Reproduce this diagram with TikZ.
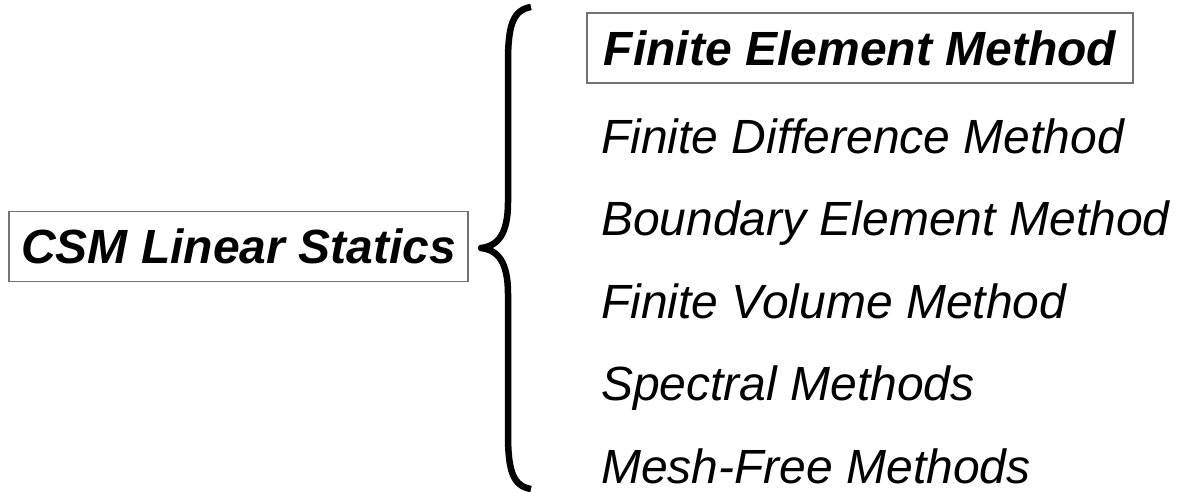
\documentclass[tikz,border=0pt]{standalone}
\usepackage{fontspec}
\setmainfont{Liberation Sans}
\begin{document}
\begin{tikzpicture}[x=1pt,y=-1pt,
    box/.style={draw=black!55,line width=1.3pt,inner xsep=12pt,minimum height=70pt,
      font=\fontsize{48}{58}\selectfont\bfseries\itshape},
    method/.style={anchor=base west,inner sep=0pt,font=\fontsize{48}{58}\selectfont\itshape}]
  \useasboundingbox (0,0) rectangle (1178,491);

  \node[box] (csm) at (238.5,246.5) {CSM Linear Statics};

  \node[box,inner xsep=17pt] (fem) at (860,48) {Finite Element Method};
  \node[method] (fdm) at (601,153) {Finite Difference Method};
  \node[method] (bem) at (601,235) {Boundary Element Method};
  \node[method] (fvm) at (601,318) {Finite Volume Method};
  \node[method] (spm) at (601,400) {Spectral Methods};
  \node[method] (mfm) at (601,483) {Mesh-Free Methods};

  % the brace
  \coordinate (top) at (531,7);
  \coordinate (tip) at (481,248);
  \coordinate (bot) at (531,489);
  \draw[line width=6.5pt,line join=round] (top) .. controls (513,10) and (508,25) .. (508,62) -- (508,202)
    .. controls (508,234) and (498,246) .. (tip)
    .. controls (498,250) and (508,262) .. (508,294) -- (508,434)
    .. controls (508,471) and (513,486) .. (bot);
\end{tikzpicture}
\end{document}
